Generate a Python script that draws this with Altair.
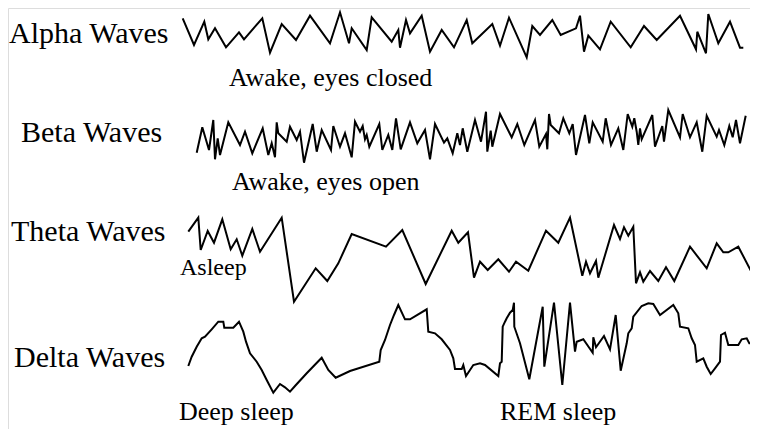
import altair as alt
import pandas as pd

# (time, amplitude) samples, one list per rhythm
alpha = [(182.7, 14.7), (194, -12), (204.3, 11.3), (208.3, -6.3), (215, 4.7), (226, -14.3), (239, 0.7), (244, -6.3),
         (262.3, 14.7), (270, -19.7), (281.7, 9), (296, -7), (310, 17.3), (330, -10.3), (340, 20.7), (349, -10.3),
         (351.7, 4.7), (366.7, -17), (371.7, 15.7), (391.7, -8.7), (398.3, 3), (400, -14.7), (406, 13), (410, -0.3),
         (421.7, 17.3), (430, -18.7), (441.7, 3), (454, -14.3), (466.7, 13), (472.3, -10.3), (492.3, 9), (500, -12.7),
         (509, 15.3), (526.7, -24.3), (532.3, 7), (540, -2), (552.3, 13), (560.7, -2), (576, 4.7), (580, 17.3),
         (584, -18.7), (588.3, -2.7), (600, -16.3), (610.7, 11.3), (630.7, -14.3), (644, 7), (656.7, -7), (680, 17.3),
         (696, -16.3), (697.3, 1.3), (706, -20.3), (708.3, 19), (718.3, -10.3), (730, 11.3), (740, -14.7), (743.3, -14.7)]

beta = [(196.7, -15.7), (202.3, 9.7), (209, -13), (213.3, 17), (215, -22.3), (217.7, -1.3), (220, -18), (228.3, 14.7),
        (240, -8), (245, 5.3), (252.3, -16.3), (262.7, 8.7), (268.3, -18), (271.7, -6.3), (275, -20.3), (276.7, 14.7),
        (278.3, 3.7), (286.7, -4.7), (290, 10.3), (296.7, -3), (300, 5.3), (304, -25.7), (312.7, 13), (316.7, -14.7),
        (321.7, 7), (331, -13), (333.3, 11), (340, -9.7), (345, 3.7), (351.7, -20.3), (355, 15.3), (360, 5.3),
        (362.7, 11), (365, -2.3), (366.7, 2), (369.3, -9.7), (379.3, 13), (382.3, -13), (388.3, 2), (392.3, -13),
        (396, 18.7), (400.7, -12.3), (410, 14.7), (417.3, -6.3), (425, 7), (430, -22.3), (435, 13), (444, -5.7),
        (447.3, -1.3), (452.7, -16.3), (457.3, 3.7), (460, -8), (462.7, 8.7), (467.3, -14.7), (475, 17), (481, -4.7),
        (486, 25.3), (487.3, -14.7), (490.7, 6.3), (492.3, -9.7), (500, 23), (511.7, -0.3), (517.3, 13), (524.3, -8),
        (535, 17), (539.3, -9.7), (546, 3), (547.3, -12.3), (549, 23), (550.7, 12), (559, 3.7), (563.3, 18.7),
        (569.3, 3.7), (572.7, 13), (576, -18), (585, 22), (589.3, -6.3), (592.7, 14.7), (602.7, -4.7), (605.7, 18.7),
        (611, -8), (618.3, 8.7), (623.3, -13), (627.7, 23), (632.3, 10.3), (634.3, 18.7), (636.7, 5.3), (638.3, -8),
        (640, 8.7), (641.7, -2.3), (652.3, 22), (655, -9.7), (662.3, 11), (664, -4.7), (668.3, 27), (680, -0.3),
        (682.7, 23), (690, -0.3), (696.7, 14.7), (702.3, -14.7), (706.7, 21.3), (716.7, 0.3), (719, 7), (724.3, -8),
        (729.3, 11), (732.7, -0.3), (736, 17), (740, -6.3), (745.7, 21.3)]

theta = [(188.3, 18.3), (198.3, 32.3), (200.7, 0), (207.7, 19), (214, 7.3), (222.3, 30.7), (230.7, 0.7), (236.7, 10.7),
         (242.3, -5.7), (252.3, 21), (260, -1.7), (281.7, 32.3), (294, -51.7), (315.7, -18.3), (327.3, -31),
         (338.3, -13.3), (351.7, 16), (386, 3.3), (402.3, 20), (425.7, -34), (451.7, 19.3), (458.3, 7.3), (468, 17.7),
         (474, -27.7), (480, -11.7), (487.7, -20), (498.3, -9.3), (509, -21.7), (516, -11.7), (528.3, -20.7),
         (546, 19.3), (558.3, 7.3), (570, 32.3), (582.3, -25.7), (586, -11.7), (590, -23.3), (596, -11), (598.3, -27.7),
         (614, 25), (620, 11), (624, 22.7), (628.3, 14.3), (633.3, 23.3), (636, -33.3), (640, -22.3), (643.3, -31.7),
         (650, -21), (658.3, -31), (666, -17.3), (674.3, -31), (690, 3.3), (706.7, -18.3), (716.7, 6.7), (723.3, -2.3),
         (728.3, -2.3), (738.3, 3.3), (754, -26.7)]

delta = [(188.3, -21), (191.7, -11.7), (196.7, -1.7), (201.7, 6.7), (205, 8.3), (211.7, 15.7), (218.3, 23.3),
         (223.3, 23.3), (224.3, 17.3), (233.3, 17.3), (239, 23.3), (243.3, 13.3), (246, 3.3), (250, -8.3),
         (256.7, -16.7), (261.7, -25), (266.7, -35), (273.3, -47.7), (280, -39), (285, -42.3), (290, -46.7), (295, -41),
         (306.7, -28.3), (321.7, -12.7), (328.3, -25), (335.7, -32.7), (350, -26), (379.3, -16.7), (380.7, -5),
         (385, 5), (390, 20), (394, 30), (398.3, 40), (405, 25.7), (410, 25.7), (426.7, 35.7), (428.3, 13.3),
         (435, 11.7), (441.7, 5.7), (450, -5), (453.3, -13.3), (455, -24), (461.7, -24), (463.3, -20), (466, -31),
         (473.3, -20), (480, -18.3), (485, -20), (498.3, -31), (500, -18.3), (501.7, -16.7), (502.7, 18.3),
         (505, 23.3), (506.7, 26.7), (510, 32.3), (512.7, 35), (514, 42.3), (514.3, 18.3), (520, 1.7), (529.3, -34.3),
         (542.7, 38.3), (544.3, -21.7), (554, 42.3), (562.3, -40), (570, 42.3), (575, -6.7), (576.7, 3.3),
         (583.3, 5.7), (592.7, -7.7), (593.3, 7.7), (596, -2.3), (604, 9), (610, -4.3), (615.7, 30), (620.7, -25.7),
         (626.7, 1.7), (628.3, 11.7), (631.7, 16.7), (633.3, 28.3), (641.7, 39), (648.3, 41.7), (653.3, 41),
         (660, 30), (673.3, 40), (678.3, 31.7), (680, 18.3), (688.3, 16.7), (691.7, 6.7), (695, 0), (696.7, -16.7),
         (703.3, -13.3), (706.7, -21.7), (710.7, -29), (715, -23.3), (720, -16.7), (721, 10), (725, 12.3),
         (728.3, 0), (738.3, 0), (741.7, 5.7), (746.7, 6.7), (749.3, 1.7), (753.3, 1.7)]

wave_names = ["Alpha", "Beta", "Theta", "Delta"]
wave_levels = [396, 292, 179, 84]   # vertical position of each trace's centre line

label_text = ["Alpha Waves", "Awake, eyes closed", "Beta Waves", "Awake, eyes open",
              "Theta Waves", "Asleep", "Delta Waves", "Deep sleep", "REM sleep"]
label_x = [9, 229, 21, 232, 11, 180, 14, 179, 500]
label_y = [386, 343, 287, 239, 188, 154, 62, 9, 9]
label_size = [30, 26, 30, 26, 30, 24, 30, 26, 26]

rows = []
for name, level, series in zip(wave_names, wave_levels, [alpha, beta, theta, delta]):
    for i, (t, v) in enumerate(series):
        rows.append({"wave": name, "order": i, "t": t, "y": level + v})
df = pd.DataFrame(rows)

labels = pd.DataFrame({"text": label_text, "x": label_x, "y": label_y, "size": label_size})

xs = alt.Scale(domain=[8, 750], nice=False, zero=False)
ys = alt.Scale(domain=[0, 421], nice=False, zero=False)

lines = alt.Chart(df).mark_line(color="black", strokeWidth=2, clip=False).encode(
    x=alt.X("t:Q", scale=xs, axis=None),
    y=alt.Y("y:Q", scale=ys, axis=None),
    detail="wave:N",
    order="order:Q",
)

text = alt.Chart(labels).mark_text(
    align="left", baseline="alphabetic", font="Liberation Serif", color="black"
).encode(
    x=alt.X("x:Q", scale=xs, axis=None),
    y=alt.Y("y:Q", scale=ys, axis=None),
    text="text:N",
    size=alt.Size("size:Q", scale=None, legend=None),
)

chart = alt.layer(lines, text).properties(
    width=742, height=421, padding=0, autosize=alt.AutoSizeParams(type="none")
).configure_view(stroke=None).configure(background="white")

chart.save("out.html", embed_options={"renderer": "svg", "actions": False})
